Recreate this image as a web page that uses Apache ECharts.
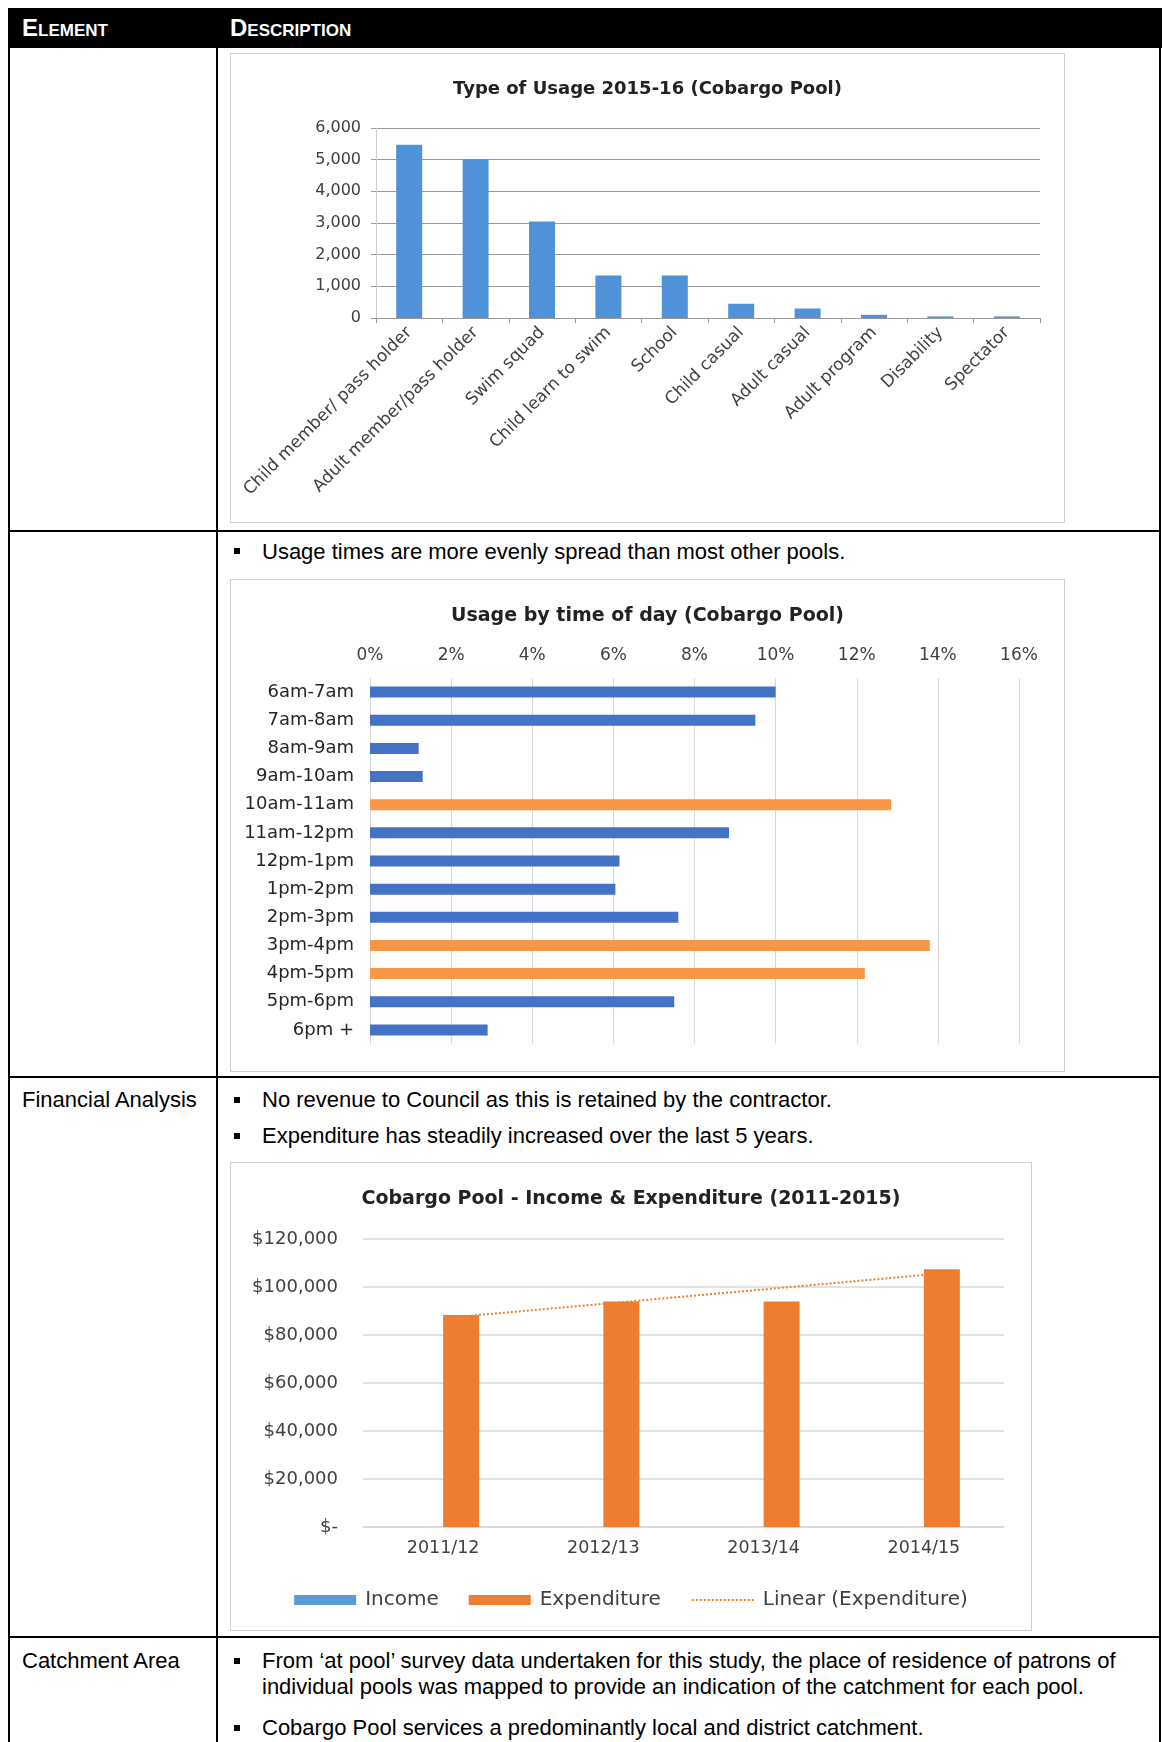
<!DOCTYPE html>
<html><head><meta charset="utf-8">
<script src="https://cdn.jsdelivr.net/npm/echarts@6/dist/echarts.min.js"></script>
<style>
html,body{margin:0;padding:0;background:#fff;}
#page{position:relative;width:1163px;height:1742px;overflow:hidden;font-family:"Liberation Sans",Arial,sans-serif;color:#000;}
.hl{position:absolute;background:#000;height:2px;}
.vl{position:absolute;background:#000;width:2px;}
.t{position:absolute;white-space:nowrap;font-size:22px;height:30px;line-height:30px;}
.b{position:absolute;width:6px;height:6px;background:#000;}
.box{position:absolute;border:1px solid #d0d0d0;box-sizing:border-box;background:#fff;}
.chart{position:absolute;left:0;top:0;width:100%;height:100%;}
.hdr{position:absolute;color:#fff;font-weight:bold;font-variant:small-caps;font-size:24px;height:40px;line-height:40px;top:8px;white-space:nowrap;}
</style>
</head><body>
<div id="page">
  <div style="position:absolute;left:9px;top:8px;width:1153px;height:40px;background:#000;"></div>
  <div class="hdr" style="left:22px;">Element</div>
  <div class="hdr" style="left:230px;">Description</div>

  <div class="vl" style="left:8px;top:8px;height:1740px;"></div>
  <div class="vl" style="left:216px;top:8px;height:1740px;"></div>
  <div class="vl" style="left:1159px;top:8px;height:1740px;"></div>
  <div class="hl" style="left:8px;top:530px;width:1153px;"></div>
  <div class="hl" style="left:8px;top:1076px;width:1153px;"></div>
  <div class="hl" style="left:8px;top:1636px;width:1153px;"></div>

  <div class="box" style="left:230px;top:53px;width:835px;height:470px;"><div id="c1" class="chart"></div></div>

  <div class="b" style="left:234px;top:548px;"></div>
  <div class="t" style="left:262px;top:537px;">Usage times are more evenly spread than most other pools.</div>
  <div class="box" style="left:230px;top:579px;width:835px;height:493px;"><div id="c2" class="chart"></div></div>

  <div class="t" style="left:22px;top:1085px;">Financial Analysis</div>
  <div class="b" style="left:234px;top:1097px;"></div>
  <div class="t" style="left:262px;top:1085px;">No revenue to Council as this is retained by the contractor.</div>
  <div class="b" style="left:234px;top:1133px;"></div>
  <div class="t" style="left:262px;top:1121px;">Expenditure has steadily increased over the last 5 years.</div>
  <div class="box" style="left:230px;top:1162px;width:802px;height:469px;"><div id="c3" class="chart"></div></div>

  <div class="t" style="left:22px;top:1646px;">Catchment Area</div>
  <div class="b" style="left:234px;top:1658px;"></div>
  <div class="t" style="left:262px;top:1646px;">From ‘at pool’ survey data undertaken for this study, the place of residence of patrons of</div>
  <div class="t" style="left:262px;top:1672px;">individual pools was mapped to provide an indication of the catchment for each pool.</div>
  <div class="b" style="left:234px;top:1725px;"></div>
  <div class="t" style="left:262px;top:1713px;">Cobargo Pool services a predominantly local and district catchment.</div>
</div>
<script>
// ---- Chart 1: Type of usage ----
const usageTypes = ['Child member/ pass holder','Adult member/pass holder','Swim squad','Child learn to swim','School','Child casual','Adult casual','Adult program','Disability','Spectator'];
const usageCounts = [5470,5020,3050,1340,1340,450,300,100,50,50];

// ---- Chart 2: Usage by time of day (%) ----
const timeSlots = ['6am-7am','7am-8am','8am-9am','9am-10am','10am-11am','11am-12pm','12pm-1pm','1pm-2pm','2pm-3pm','3pm-4pm','4pm-5pm','5pm-6pm','6pm +'];
const timeShares = [10.0,9.5,1.2,1.3,12.85,8.85,6.15,6.05,7.6,13.8,12.2,7.5,2.9];
const peakSlots = ['10am-11am','3pm-4pm','4pm-5pm'];

// ---- Chart 3: Income & Expenditure ----
const years = ['2011/12','2012/13','2013/14','2014/15'];
const income = [0,0,0,0];
const expenditure = [88300,94000,94000,107400];
const expenditureTrend = [87000,null,null,105000];

const FONT = 'DejaVu Sans';

const c1 = echarts.init(document.getElementById('c1'));
c1.setOption({
  animation:false,
  title:{text:'Type of Usage 2015-16 (Cobargo Pool)',left:'center',top:21,
    textStyle:{fontFamily:FONT,fontWeight:'bold',fontSize:18,color:'#222'}},
  grid:{left:145,right:24,top:74,bottom:204},
  xAxis:{type:'category',data:usageTypes,
    axisLine:{lineStyle:{color:'#9a9a9a'}},
    axisTick:{show:true,length:5,lineStyle:{color:'#9a9a9a'}},
    axisLabel:{rotate:45,interval:0,fontFamily:FONT,fontSize:17,color:'#404040',margin:12}},
  yAxis:{type:'value',min:0,max:6000,interval:1000,
    axisLine:{show:true,lineStyle:{color:'#cfcfcf'}},
    axisTick:{show:true,length:5,lineStyle:{color:'#9a9a9a'}},
    splitLine:{lineStyle:{color:'#9a9a9a'}},
    axisLabel:{formatter:v=>v.toLocaleString('en-US'),fontFamily:FONT,fontSize:16,color:'#404040',margin:15}},
  series:[{type:'bar',data:usageCounts,barWidth:26,itemStyle:{color:'#4F92D8'}}]
});

const c2 = echarts.init(document.getElementById('c2'));
c2.setOption({
  animation:false,
  title:{text:'Usage by time of day (Cobargo Pool)',left:'center',top:22,
    textStyle:{fontFamily:FONT,fontWeight:'bold',fontSize:19,color:'#222'}},
  grid:{left:139,right:45,top:98,bottom:27},
  xAxis:{type:'value',position:'top',min:0,max:16,interval:2,
    axisLine:{show:false},axisTick:{show:false},
    splitLine:{lineStyle:{color:'#d9d9d9'}},
    axisLabel:{formatter:v=>v+'%',fontFamily:FONT,fontSize:17,color:'#404040',margin:14}},
  yAxis:{type:'category',inverse:true,data:timeSlots,
    axisLine:{show:true,lineStyle:{color:'#d9d9d9'}},axisTick:{show:false},
    axisLabel:{fontFamily:FONT,fontSize:18,color:'#262626',margin:16}},
  series:[{type:'bar',barWidth:11,
    data:timeShares.map((v,i)=>({value:v,itemStyle:{color:peakSlots.includes(timeSlots[i])?'#F79646':'#4472C4'}}))}]
});

const c3 = echarts.init(document.getElementById('c3'));
c3.setOption({
  animation:false,
  title:{text:'Cobargo Pool - Income & Expenditure (2011-2015)',left:'center',top:22,
    textStyle:{fontFamily:FONT,fontWeight:'bold',fontSize:19,color:'#222'}},
  grid:{left:132,right:27,top:76,bottom:103},
  legend:{top:422,left:'center',itemWidth:62,itemHeight:10,itemGap:30,
    textStyle:{fontFamily:FONT,fontSize:20,color:'#404040',padding:[0,0,0,4]},
    data:[{name:'Income',icon:'rect'},{name:'Expenditure',icon:'rect'},
          {name:'Linear (Expenditure)',itemStyle:{opacity:0}}]},
  xAxis:{type:'category',data:years,
    axisLine:{lineStyle:{color:'#d9d9d9',width:1.5}},axisTick:{show:false},
    axisLabel:{fontFamily:FONT,fontSize:17.5,color:'#404040',margin:12}},
  yAxis:{type:'value',min:0,max:120000,interval:20000,
    axisLine:{show:false},axisTick:{show:false},
    splitLine:{lineStyle:{color:'#d9d9d9',width:1.5}},
    axisLabel:{formatter:v=>v===0?'$-':'$'+v.toLocaleString('en-US'),fontFamily:FONT,fontSize:18,color:'#404040',margin:25}},
  series:[
    {name:'Income',type:'bar',data:income,barWidth:36,barGap:'0%',itemStyle:{color:'#5B9BD5'}},
    {name:'Expenditure',type:'bar',data:expenditure,barWidth:36,barGap:'0%',itemStyle:{color:'#ED7D31'}},
    {name:'Linear (Expenditure)',type:'line',data:expenditureTrend,connectNulls:true,symbol:'none',z:5,
      lineStyle:{color:'#ED7D31',type:'dotted',width:2},itemStyle:{color:'#ED7D31'}}
  ]
});
</script>
</body></html>
